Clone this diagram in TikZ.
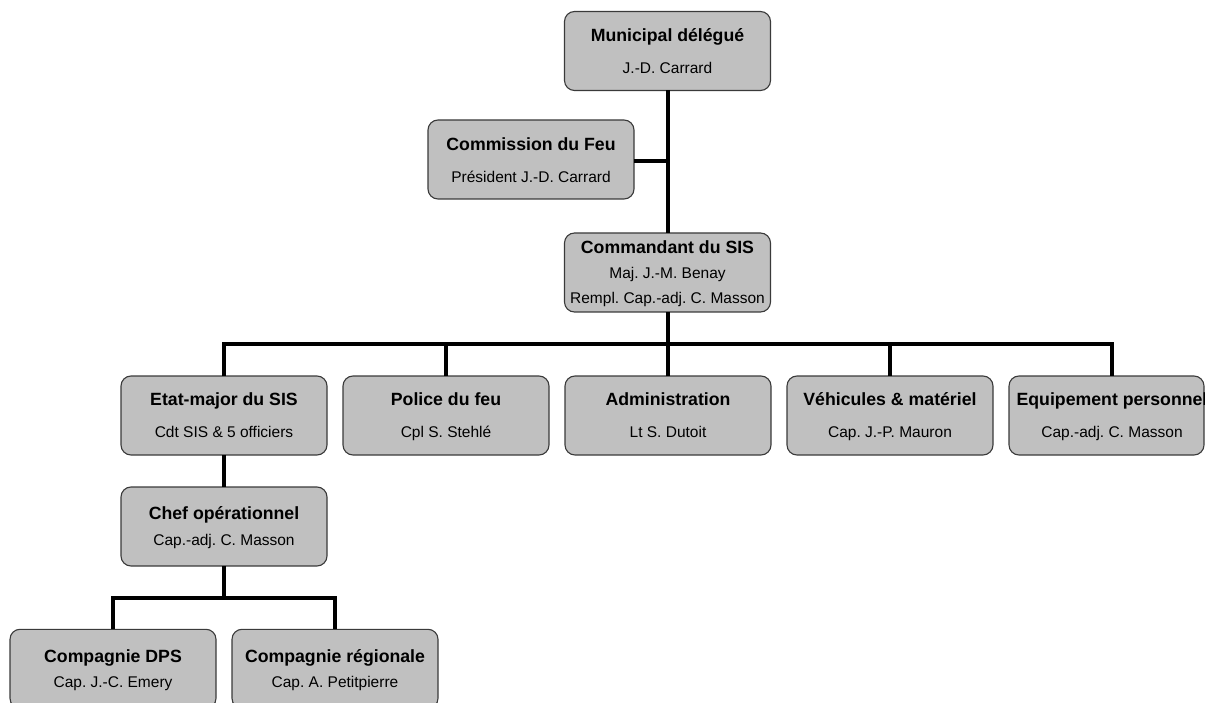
\documentclass[tikz,border=0pt]{standalone}
\usepackage{fontspec}
\setmainfont{Liberation Sans}
\frenchspacing
\definecolor{boxfill}{HTML}{C0C0C0}
\definecolor{boxline}{HTML}{3A3A3A}
\begin{document}
\begin{tikzpicture}[x=1pt,y=-1pt,
  orgbox/.style={draw=boxline, fill=boxfill, line width=1.1pt, rounded corners=10pt,
    minimum width=206pt, minimum height=79pt, inner sep=0pt, outer sep=0pt},
  ttl/.style={anchor=base, inner sep=0pt, font=\fontsize{17.7}{20}\selectfont\bfseries\frenchspacing},
  sub/.style={anchor=base, inner sep=0pt, font=\fontsize{15.5}{18}\selectfont\frenchspacing},
  conn/.style={line width=4pt, black, line join=miter}]
\useasboundingbox (0,0) rectangle (1205,703);

% boxes
\node[orgbox] (mun) at (667.5,51) {};
\node[orgbox] (com) at (531,159.5) {};
\node[orgbox] (cmd) at (667.5,272.5) {};
\node[orgbox] (etm) at (224,415.5) {};
\node[orgbox] (pol) at (446,415.5) {};
\node[orgbox] (adm) at (668,415.5) {};
\node[orgbox] (veh) at (890,415.5) {};
\node[orgbox, minimum width=195pt] (equ) at (1106.5,415.5) {};
\node[orgbox] (chf) at (224,526.5) {};
\node[orgbox] (dps) at (113,668.8) {};
\node[orgbox] (reg) at (335,668.8) {};

% texts
\node[ttl] (munT) at (667.5,41.4) {Municipal délégué};
\node[sub] (munS) at (667.5,73.6) {J.-D. Carrard};
\node[ttl] (comT) at (531,150.4) {Commission du Feu};
\node[sub] (comS) at (531,182.6) {Président J.-D. Carrard};
\node[ttl] (cmdT) at (667.5,253.1) {Commandant du SIS};
\node[sub] (cmdS) at (667.5,278.9) {Maj. J.-M. Benay};
\node[sub] (cmdR) at (667.5,303.9) {Rempl. Cap.-adj. C. Masson};
\node[ttl] (etmT) at (224,405.4) {Etat-major du SIS};
\node[sub] (etmS) at (224,437.9) {Cdt SIS \& 5 officiers};
\node[ttl] (polT) at (446,405.4) {Police du feu};
\node[sub] (polS) at (446,437.9) {Cpl S. Stehlé};
\node[ttl] (admT) at (668,405.4) {Administration};
\node[sub] (admS) at (668,437.9) {Lt S. Dutoit};
\node[ttl] (vehT) at (890,405.4) {Véhicules \& matériel};
\node[sub] (vehS) at (890,437.9) {Cap. J.-P. Mauron};
\node[ttl] (equT) at (1112,405.4) {Equipement personnel};
\node[sub] (equS) at (1112,437.9) {Cap.-adj. C. Masson};
\node[ttl] (chfT) at (224,519.7) {Chef opérationnel};
\node[sub] (chfS) at (224,545.6) {Cap.-adj. C. Masson};
\node[ttl] (dpsT) at (113,662.1) {Compagnie DPS};
\node[sub] (dpsS) at (113,687.9) {Cap. J.-C. Emery};
\node[ttl] (regT) at (335,662.1) {Compagnie régionale};
\node[sub] (regS) at (335,687.9) {Cap. A. Petitpierre};

% connectors
\coordinate (busA) at (667.5,344);
\coordinate (busL) at (224,344);
\coordinate (busR) at (1112,344);
\coordinate (busB) at (224,598);
\coordinate (busBL) at (113,598);
\coordinate (busBR) at (335,598);
\coordinate (comJ) at (667.5,161);

\draw[conn] (mun.south) -- (cmd.north);
\draw[conn] (com.east |- comJ) -- (comJ);
\draw[conn] (cmd.south) -- (busA);
\draw[conn] (etm.north) -- (busL) -- (busR) -- (busR |- equ.north);
\draw[conn] (pol.north) -- (pol.north |- busA);
\draw[conn] (adm.north) -- (adm.north |- busA);
\draw[conn] (veh.north) -- (veh.north |- busA);
\draw[conn] (etm.south) -- (chf.north);
\draw[conn] (chf.south) -- (busB);
\draw[conn] (dps.north) -- (busBL) -- (busBR) -- (reg.north);
\end{tikzpicture}
\end{document}
